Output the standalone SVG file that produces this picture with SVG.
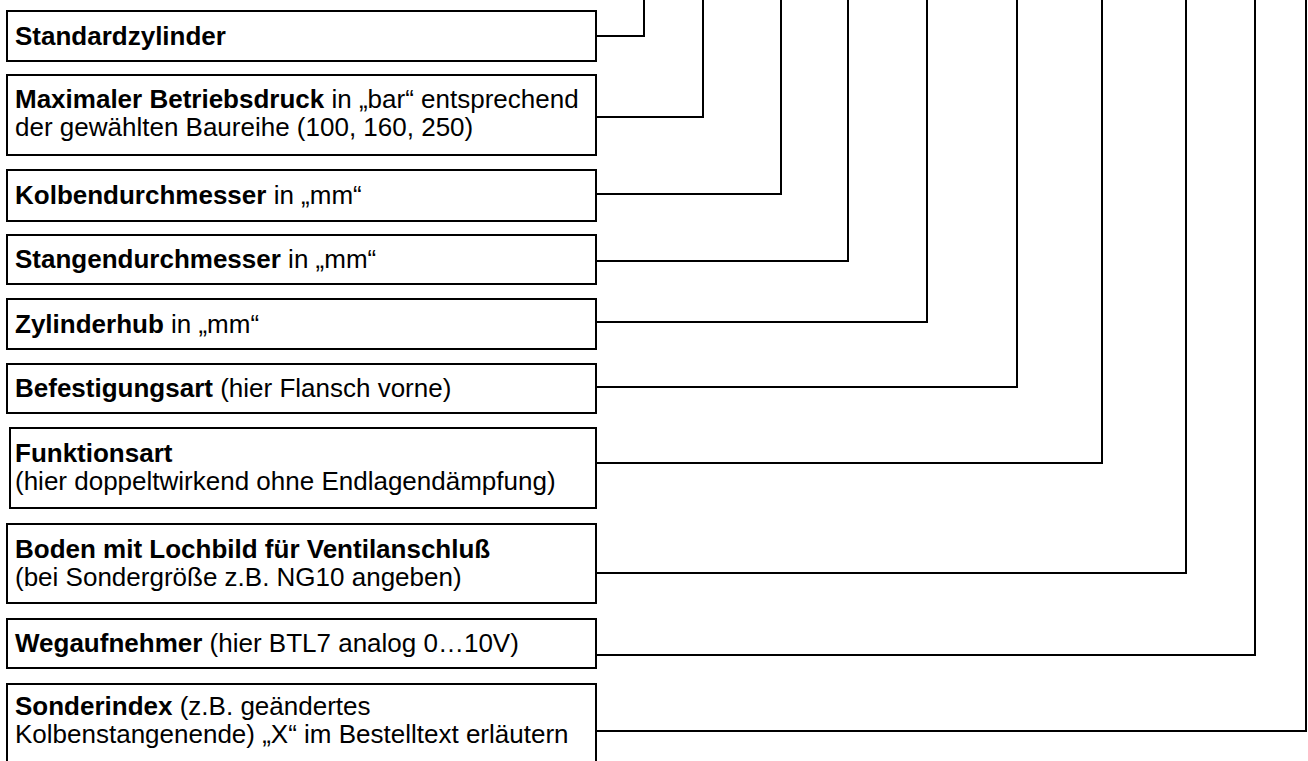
<svg xmlns="http://www.w3.org/2000/svg" width="1308" height="761" viewBox="0 0 1308 761">
<style>
.box{fill:#fff;stroke:#000;stroke-width:2}
.t{font-family:"Liberation Sans",Arial,sans-serif;font-size:26px;fill:#000}
.b{font-weight:bold}
.c{fill:none;stroke:#000;stroke-width:2}
</style>
<rect width="1308" height="761" fill="#fff"/>
<g id="connectors">
<polyline class="c" points="596,36 644,36 644,0"/>
<polyline class="c" points="596,117 703,117 703,0"/>
<polyline class="c" points="596,194 781,194 781,0"/>
<polyline class="c" points="596,261 848,261 848,0"/>
<polyline class="c" points="596,322 927,322 927,0"/>
<polyline class="c" points="596,387 1017,387 1017,0"/>
<polyline class="c" points="596,463 1102,463 1102,0"/>
<polyline class="c" points="596,573 1186,573 1186,0"/>
<polyline class="c" points="596,655 1255,655 1255,0"/>
<polyline class="c" points="596,731 1306,731 1306,0"/>
</g>
<g id="n1"><rect class="box" x="7" y="11" width="589" height="50"/>
<text class="t b" x="15" y="45">Standardzylinder</text></g>
<g id="n2"><rect class="box" x="7" y="75" width="589" height="80"/>
<text class="t" x="15" y="108"><tspan class="b">Maximaler Betriebsdruck</tspan> in „bar“ entsprechend</text>
<text class="t" x="15" y="136">der gewählten Baureihe (100, 160, 250)</text></g>
<g id="n3"><rect class="box" x="7" y="170" width="589" height="51"/>
<text class="t" x="15" y="204"><tspan class="b">Kolbendurchmesser</tspan> in „mm“</text></g>
<g id="n4"><rect class="box" x="7" y="235" width="589" height="49"/>
<text class="t" x="15" y="268"><tspan class="b">Stangendurchmesser</tspan> in „mm“</text></g>
<g id="n5"><rect class="box" x="7" y="299" width="589" height="50"/>
<text class="t" x="15" y="333"><tspan class="b">Zylinderhub</tspan> in „mm“</text></g>
<g id="n6"><rect class="box" x="7" y="364" width="589" height="49"/>
<text class="t" x="15" y="397"><tspan class="b">Befestigungsart</tspan> (hier Flansch vorne)</text></g>
<g id="n7"><rect class="box" x="10" y="428" width="586" height="80"/>
<text class="t b" x="15" y="462">Funktionsart</text>
<text class="t" x="15" y="490">(hier doppeltwirkend ohne Endlagendämpfung)</text></g>
<g id="n8"><rect class="box" x="7" y="524" width="589" height="79"/>
<text class="t b" x="15" y="558">Boden mit Lochbild für Ventilanschluß</text>
<text class="t" x="15" y="586">(bei Sondergröße z.B. NG10 angeben)</text></g>
<g id="n9"><rect class="box" x="7" y="619" width="589" height="49"/>
<text class="t" x="15" y="652"><tspan class="b">Wegaufnehmer</tspan> (hier BTL7 analog 0…10V)</text></g>
<g id="n10"><rect class="box" x="7" y="684" width="589" height="80"/>
<text class="t" x="15" y="715"><tspan class="b">Sonderindex</tspan> (z.B. geändertes</text>
<text class="t" x="15" y="743">Kolbenstangenende) „X“ im Bestelltext erläutern</text></g>
</svg>
